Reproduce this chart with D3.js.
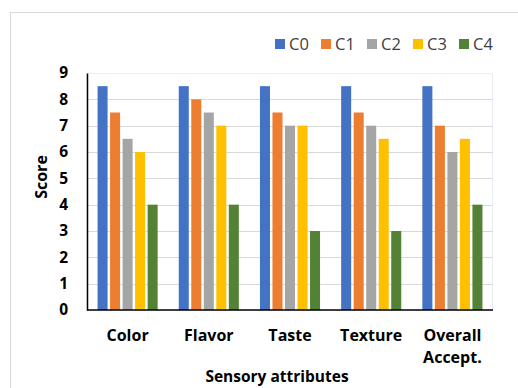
<!DOCTYPE html>
<html>
<head>
<meta charset="utf-8">
<script src="https://cdn.jsdelivr.net/npm/d3@7"></script>
<style>
  html, body { margin: 0; padding: 0; background: #fff; }
  svg { display: block; }
  text { font-family: "Open Sans", "Liberation Sans", sans-serif; }
</style>
</head>
<body>
<svg id="chart" width="518" height="388"></svg>
<script>
// Sensory scores per attribute for five formulations
const categories = ["Color", "Flavor", "Taste", "Texture", "Overall Accept."];
const seriesNames = ["C0", "C1", "C2", "C3", "C4"];
const C0 = [8.5, 8.5, 8.5, 8.5, 8.5];
const C1 = [7.5, 8, 7.5, 7.5, 7];
const C2 = [6.5, 7.5, 7, 7, 6];
const C3 = [6, 7, 7, 6.5, 6.5];
const C4 = [4, 4, 3, 3, 4];
const yTicks = [0, 1, 2, 3, 4, 5, 6, 7, 8, 9];
const colors = ["#4472C4", "#ED7D31", "#A5A5A5", "#FFC000", "#548235"];

const seriesValues = [C0, C1, C2, C3, C4];

const svg = d3.select("#chart");
const W = 518, H = 388;
const margin = { left: 87, right: 25, top: 73, bottom: 78 };
const plotW = W - margin.left - margin.right;
const plotH = H - margin.top - margin.bottom;

// outer chart frame
svg.append("rect")
  .attr("x", 10.5).attr("y", 12.5)
  .attr("width", 520).attr("height", 400)
  .attr("fill", "#fff").attr("stroke", "#d9d9d9").attr("stroke-width", 1);

const g = svg.append("g").attr("transform", `translate(${margin.left},${margin.top})`);

const x0 = d3.scaleBand().domain(categories).range([0, plotW]).paddingInner(0.26).paddingOuter(0.13);
const x1 = d3.scaleBand().domain(seriesNames).range([0, x0.bandwidth()]).paddingInner(0.2);
const y = d3.scaleLinear().domain([0, 9]).range([plotH, 0]);

// plot area frame
g.append("rect")
  .attr("x", 0).attr("y", 0.5)
  .attr("width", plotW - 0.5).attr("height", plotH)
  .attr("fill", "none").attr("stroke", "#e8ebf5").attr("stroke-width", 1);

// horizontal gridlines
g.append("g")
  .selectAll("line")
  .data(yTicks.filter(d => d > 0))
  .join("line")
  .attr("x1", 0).attr("x2", plotW)
  .attr("y1", d => Math.round(y(d)) + 0.5).attr("y2", d => Math.round(y(d)) + 0.5)
  .attr("stroke", d => d === 9 ? "#eceef6" : "#d9d9d9").attr("stroke-width", 1);

// bars
const groups = g.append("g")
  .selectAll("g")
  .data(categories)
  .join("g")
  .attr("transform", d => `translate(${x0(d)},0)`);

groups.selectAll("rect")
  .data((d, i) => seriesNames.map((s, j) => ({ s, v: seriesValues[j][i], c: colors[j] })))
  .join("rect")
  .attr("x", d => x1(d.s))
  .attr("width", x1.bandwidth())
  .attr("y", d => y(d.v))
  .attr("height", d => plotH - y(d.v))
  .attr("fill", d => d.c);

// y axis
const yAxis = g.append("g")
  .call(d3.axisLeft(y).tickValues(yTicks).tickSize(0).tickPadding(19).tickFormat(d3.format("d")));
yAxis.select(".domain").attr("stroke", "#000").attr("stroke-width", 1.5);
yAxis.selectAll("text")
  .attr("font-size", 15.5).attr("font-weight", 700).attr("fill", "#000")
  .attr("font-family", "'Open Sans', sans-serif");

// x axis baseline
g.append("line")
  .attr("x1", 0).attr("x2", plotW)
  .attr("y1", plotH).attr("y2", plotH)
  .attr("stroke", "#000").attr("stroke-width", 1.5);

// category labels (wrapped on spaces)
const catLabels = g.append("g").selectAll("text")
  .data(categories)
  .join("text")
  .attr("x", d => x0(d) + x0.bandwidth() / 2)
  .attr("y", plotH + 31)
  .attr("text-anchor", "middle")
  .attr("font-size", 16).attr("font-weight", 700).attr("fill", "#000");
catLabels.each(function (d) {
  const words = d.split(" ");
  const t = d3.select(this);
  words.forEach((w, i) => {
    t.append("tspan").attr("x", x0(d) + x0.bandwidth() / 2).attr("dy", i === 0 ? 0 : 22).text(w);
  });
});

// axis titles
svg.append("text")
  .attr("x", margin.left + plotW / 2 - 13).attr("y", 382)
  .attr("text-anchor", "middle")
  .attr("font-size", 15.5).attr("font-weight", 700).attr("fill", "#000")
  .text("Sensory attributes");

svg.append("text")
  .attr("transform", "translate(47,177) rotate(-90)")
  .attr("text-anchor", "middle")
  .attr("font-size", 16).attr("font-weight", 700).attr("fill", "#000")
  .text("Score");

// legend
const legend = svg.append("g").attr("transform", "translate(275,44)");
const item = legend.selectAll("g")
  .data(seriesNames)
  .join("g")
  .attr("transform", (d, i) => `translate(${i * 46},0)`);
item.append("rect")
  .attr("x", 0).attr("y", -5)
  .attr("width", 10).attr("height", 10)
  .attr("fill", (d, i) => colors[i]);
item.append("text")
  .attr("x", 14).attr("y", 0)
  .attr("dy", "0.35em")
  .attr("font-size", 16.5).attr("fill", "#404040")
  .text(d => d);
</script>
</body>
</html>
